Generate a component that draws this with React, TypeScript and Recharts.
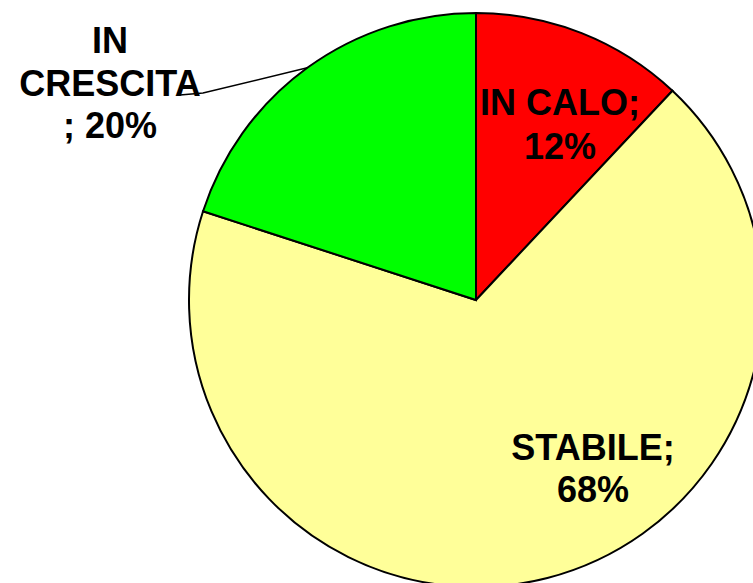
import { PieChart, Pie, Cell } from "recharts";

const categories = ["IN CALO", "STABILE", "IN CRESCITA"];
const shares = [12, 68, 20];
// how each label breaks onto lines, as printed in the chart
const labelLines = [
  ["IN CALO;", "12%"],
  ["STABILE;", "68%"],
  ["IN", "CRESCITA", "; 20%"],
];

const COLORS = ["#ff0000", "#ffff99", "#00ff00"];
const RAD = Math.PI / 180;
const FONT = "'Liberation Sans', Arial, sans-serif";

// label placement relative to pie centre: x centre, first baseline, line gap
const LABEL_LAYOUT = [
  { dx: 84, dy: -185, gap: 44 },
  { dx: 117, dy: 160, gap: 42 },
  { dx: -366, dy: -247, gap: 42.5 },
];
// leader line elbow / end for the outside label (relative to centre)
const LEADER = [
  { x: -273, y: -207 },
  { x: -296, y: -205 },
];

const data = categories.map((name, i) => ({ name, value: shares[i] }));

function renderLabel(props: any) {
  const { cx, cy, midAngle, outerRadius, index } = props;
  const lay = LABEL_LAYOUT[index];
  const lines = labelLines[index];
  const x = cx + lay.dx;
  let leader = null;
  if (index === 2) {
    const sx = cx + outerRadius * Math.cos(-midAngle * RAD);
    const sy = cy + outerRadius * Math.sin(-midAngle * RAD);
    const pts = [[sx, sy], ...LEADER.map((p) => [cx + p.x, cy + p.y])];
    leader = (
      <polyline
        points={pts.map((p) => p.join(",")).join(" ")}
        fill="none"
        stroke="#000"
        strokeWidth={1.5}
      />
    );
  }
  return (
    <g key={`lbl-${index}`}>
      {leader}
      <text
        x={x}
        y={cy + lay.dy}
        textAnchor="middle"
        fontFamily={FONT}
        fontWeight="bold"
        fontSize={36}
        fill="#000"
      >
        {lines.map((ln, i) => (
          <tspan key={i} x={x} y={cy + lay.dy + i * lay.gap}>
            {ln}
          </tspan>
        ))}
      </text>
    </g>
  );
}

export default function App() {
  return (
    <div style={{ position: "absolute", left: 0, top: 0, width: 753, height: 583, background: "#fff" }}>
      <PieChart width={753} height={583} margin={{ top: 0, right: 0, bottom: 0, left: 0 }}>
        <Pie
          data={data}
          dataKey="value"
          nameKey="name"
          cx={476}
          cy={300}
          outerRadius={287}
          startAngle={90}
          endAngle={-270}
          stroke="#000"
          strokeWidth={2}
          label={renderLabel}
          labelLine={false}
          isAnimationActive={false}
        >
          {data.map((d, i) => (
            <Cell key={d.name} fill={COLORS[i]} />
          ))}
        </Pie>
      </PieChart>
    </div>
  );
}
